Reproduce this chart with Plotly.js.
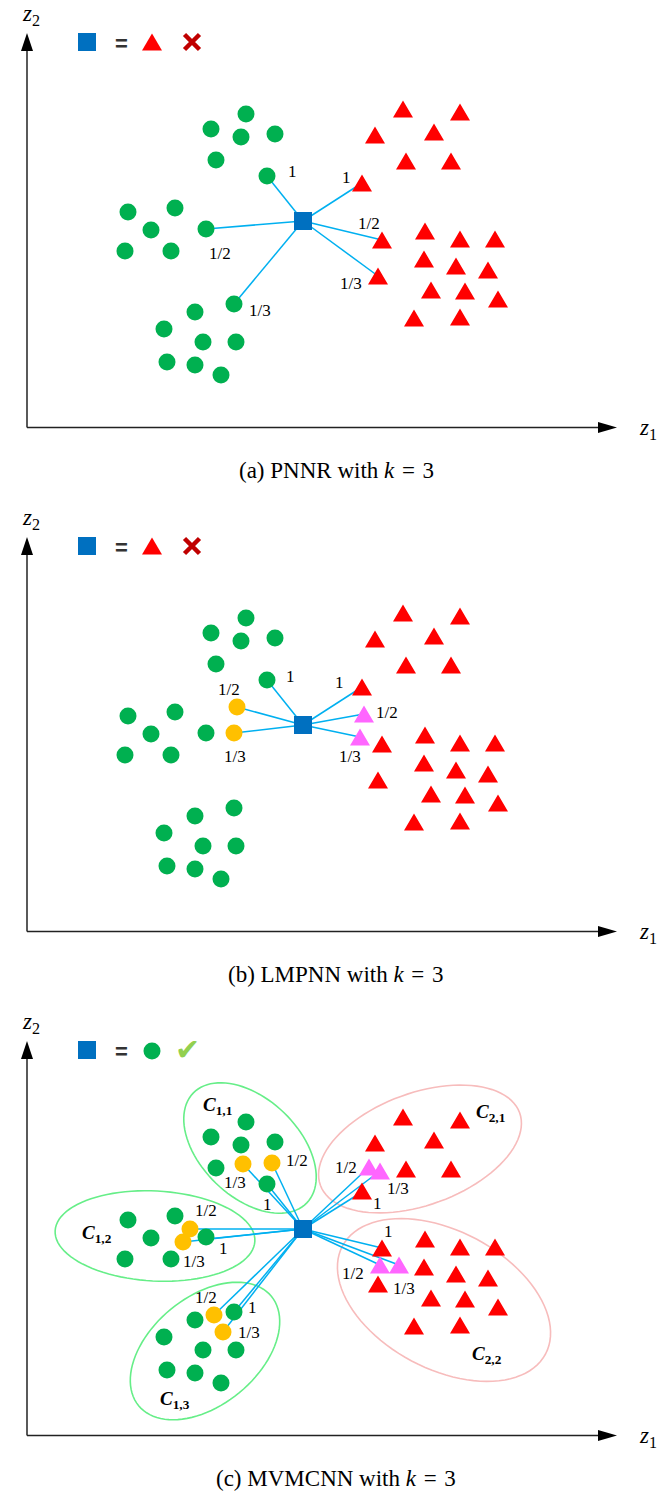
<!DOCTYPE html>
<html>
<head>
<meta charset="utf-8">
<script src="https://cdn.plot.ly/plotly-3.0.1.min.js"></script>
<style>html,body{margin:0;padding:0;background:#fff}#chart{width:672px;height:1495px}</style>
</head>
<body>
<div id="chart"></div>
<script>
// ---------- data (local panel coordinates, same for every panel) ----------
const greenX = [246, 211, 241, 275, 216, 267, 128, 175, 151, 206, 125, 171, 234, 195, 164, 203, 236, 167, 195, 221];
const greenY = [114, 129, 137, 134, 160, 176, 212, 208, 230, 229, 251, 251, 304, 312, 329, 342, 342, 362, 365, 375];
const redX = [403, 460, 375, 434, 406, 451, 362, 382, 425, 460, 495, 424, 456, 488, 378, 431, 465, 498, 414, 460];
const redY = [109, 112, 135, 132, 161, 161, 183, 240, 231, 239, 239, 259, 266, 270, 276, 290, 291, 299, 318, 317];
const queryX = [303];
const queryY = [221];

// panel (a) PNNR
const nnA_X = [267, 206, 234, 362, 382, 378];
const nnA_Y = [176, 229, 304, 183, 240, 276];
const labA_text = ["1", "1/2", "1/3", "1", "1/2", "1/3"];
const labA_X = [292, 220, 260, 346, 369, 351];
const labA_Y = [171, 253, 310, 177, 223, 283];

// panel (b) LMPNN
const yellowB_X = [237, 234];
const yellowB_Y = [203, 229];
const pinkB_X = [364, 360];
const pinkB_Y = [210, 233];
const nnB_X = [267, 237, 234, 362, 364, 360];
const nnB_Y = [176, 203, 229, 183, 210, 233];
const labB_text = ["1", "1/2", "1/3", "1", "1/2", "1/3"];
const labB_X = [290, 229, 235, 339, 387, 350];
const labB_Y = [172, 185, 252, 178, 208, 252];

// panel (c) MVMCNN
const yellowC_X = [243, 272, 190, 183, 214, 223];
const yellowC_Y = [156, 155, 221, 234, 307, 324];
const pinkC_X = [369, 380, 380, 399];
const pinkC_Y = [159, 163, 257, 257];
const nnC_X = [267, 243, 272, 207, 190, 183, 234, 214, 223, 362, 369, 380, 382, 380, 399];
const nnC_Y = [176, 156, 155, 231, 221, 234, 304, 307, 324, 184, 159, 163, 240, 257, 257];
const labC_text = ["1/2", "1/3", "1", "1/2", "1", "1/3", "1/2", "1", "1/3", "1/2", "1/3", "1", "1", "1/2", "1/3"];
const labC_X = [297, 235, 267, 206, 223, 194, 206, 252, 249, 346, 398, 377, 388, 353, 404];
const labC_Y = [152, 174, 196, 202, 240, 253, 289, 299, 324, 159, 180, 195, 223, 265, 280];
const clusterNames = ["1,1", "1,2", "1,3", "2,1", "2,2"];
const clusterLabX = [217, 97, 175, 490, 487];
const clusterLabY = [98, 226, 392, 105, 347];
const ellCX = [250, 155, 205, 420, 444];
const ellCY = [140, 228, 343, 141, 292];
const ellA = [79, 100, 86, 106, 115];
const ellB = [49, 45, 54, 56, 69];
const ellAngle = [44, 3, -39.5, -20, 28];
const ellClass = [1, 1, 1, 2, 2];

const captions = ["(a) PNNR with <i>k</i> &#8202;=&#8202; 3", "(b) LMPNN with <i>k</i> &#8202;=&#8202; 3", "(c) MVMCNN with <i>k</i> &#8202;=&#8202; 3"];

// ---------- styling ----------
const C_GREEN = "#00b050", C_RED = "#ff0000", C_BLUE = "#0070c0", C_YEL = "#ffc000",
      C_PINK = "#ff66ff", C_LINE = "#00b0f0", C_DARKRED = "#c00000", C_CHECK = "#92d050";
const SERIF = "Liberation Serif, Times New Roman, serif";

const traces = [];
const shapes = [];
const annotations = [];

function triPoly(xs, ys) {
  const X = [], Y = [];
  for (let i = 0; i < xs.length; i++) {
    X.push(xs[i] - 10, xs[i] + 10, xs[i], xs[i] - 10, null);
    Y.push(ys[i] + 8.5, ys[i] + 8.5, ys[i] - 8.5, ys[i] + 8.5, null);
  }
  return {x: X, y: Y};
}
function addTriangles(xs, ys, color, ax) {
  const p = triPoly(xs, ys);
  traces.push({x: p.x, y: p.y, mode: "lines", fill: "toself", fillcolor: color,
    line: {width: 0, color: color}, xaxis: ax.x, yaxis: ax.y, hoverinfo: "skip", connectgaps: false});
}
function addCircles(xs, ys, color, ax) {
  traces.push({x: xs, y: ys, mode: "markers", marker: {symbol: "circle", size: 17, color: color},
    xaxis: ax.x, yaxis: ax.y, hoverinfo: "skip"});
}
function addLinks(nx, ny, ax) {
  const X = [], Y = [];
  for (let i = 0; i < nx.length; i++) { X.push(queryX[0], nx[i], null); Y.push(queryY[0], ny[i], null); }
  traces.push({x: X, y: Y, mode: "lines", line: {color: C_LINE, width: 1.5}, xaxis: ax.x, yaxis: ax.y, hoverinfo: "skip"});
}
function addQuery(ax) {
  traces.push({x: queryX, y: queryY, mode: "markers", marker: {symbol: "square", size: 18, color: C_BLUE},
    xaxis: ax.x, yaxis: ax.y, hoverinfo: "skip"});
}
function addLabels(texts, xs, ys, ax) {
  for (let i = 0; i < texts.length; i++) {
    annotations.push({text: texts[i], x: xs[i], y: ys[i], xref: ax.x, yref: ax.y, showarrow: false,
      xanchor: "center", yanchor: "middle", font: {family: SERIF, size: 17, color: "#000"}});
  }
}
function addFrame(ax, caption) {
  shapes.push({type: "line", xref: ax.x, yref: ax.y, x0: 27, y0: 427.5, x1: 27, y1: 48, line: {color: "#000", width: 1.3}});
  shapes.push({type: "line", xref: ax.x, yref: ax.y, x0: 27, y0: 427.5, x1: 600, y1: 427.5, line: {color: "#222", width: 1.3}});
  shapes.push({type: "path", xref: ax.x, yref: ax.y, path: "M27,33 L21,51 L33,51 Z", fillcolor: "#000", line: {width: 0}});
  shapes.push({type: "path", xref: ax.x, yref: ax.y, path: "M617,427.5 L598,422 L598,433 Z", fillcolor: "#000", line: {width: 0}});
  annotations.push({text: "<i>z</i><sub>2</sub>", x: 31, y: 15, xref: ax.x, yref: ax.y, showarrow: false,
    xanchor: "center", yanchor: "middle", font: {family: SERIF, size: 23, color: "#000"}});
  annotations.push({text: "<i>z</i><sub>1</sub>", x: 648, y: 429, xref: ax.x, yref: ax.y, showarrow: false,
    xanchor: "center", yanchor: "middle", font: {family: SERIF, size: 23, color: "#000"}});
  annotations.push({text: caption, x: 336, y: 470, xref: ax.x, yref: ax.y, showarrow: false,
    xanchor: "center", yanchor: "middle", font: {family: SERIF, size: 23, color: "#000"}});
  traces.push({x: [87], y: [42], mode: "markers", marker: {symbol: "square", size: 18, color: C_BLUE},
    xaxis: ax.x, yaxis: ax.y, hoverinfo: "skip"});
  annotations.push({text: "<b>=</b>", x: 121, y: 43, xref: ax.x, yref: ax.y, showarrow: false,
    xanchor: "center", yanchor: "middle", font: {family: "Liberation Sans, Arial, sans-serif", size: 22, color: "#333"}});
}

const AX = [{x: "x", y: "y"}, {x: "x2", y: "y2"}, {x: "x3", y: "y3"}];

// ---- panel a ----
addFrame(AX[0], captions[0]);
addLinks(nnA_X, nnA_Y, AX[0]);
addCircles(greenX, greenY, C_GREEN, AX[0]);
addTriangles(redX, redY, C_RED, AX[0]);
addQuery(AX[0]);
addLabels(labA_text, labA_X, labA_Y, AX[0]);
addTriangles([152], [42], C_RED, AX[0]);
traces.push({x: [192], y: [42], mode: "markers", marker: {symbol: "x-thin", size: 15, line: {width: 4.5, color: C_DARKRED}},
  xaxis: "x", yaxis: "y", hoverinfo: "skip"});

// ---- panel b ----
addFrame(AX[1], captions[1]);
addLinks(nnB_X, nnB_Y, AX[1]);
addCircles(greenX, greenY, C_GREEN, AX[1]);
addCircles(yellowB_X, yellowB_Y, C_YEL, AX[1]);
addTriangles(redX, redY, C_RED, AX[1]);
addTriangles(pinkB_X, pinkB_Y, C_PINK, AX[1]);
addQuery(AX[1]);
addLabels(labB_text, labB_X, labB_Y, AX[1]);
addTriangles([152], [42], C_RED, AX[1]);
traces.push({x: [192], y: [42], mode: "markers", marker: {symbol: "x-thin", size: 15, line: {width: 4.5, color: C_DARKRED}},
  xaxis: "x2", yaxis: "y2", hoverinfo: "skip"});

// ---- panel c ----
addFrame(AX[2], captions[2]);
for (let k = 0; k < ellCX.length; k++) {
  const th = ellAngle[k] * Math.PI / 180;
  let d = "";
  for (let i = 0; i <= 96; i++) {
    const t = 2 * Math.PI * i / 96;
    const px = ellCX[k] + ellA[k] * Math.cos(th) * Math.cos(t) - ellB[k] * Math.sin(th) * Math.sin(t);
    const py = ellCY[k] + ellA[k] * Math.sin(th) * Math.cos(t) + ellB[k] * Math.cos(th) * Math.sin(t);
    d += (i === 0 ? "M" : "L") + px.toFixed(2) + "," + py.toFixed(2);
  }
  d += "Z";
  shapes.push({type: "path", xref: "x3", yref: "y3", path: d, layer: "below",
    line: {color: ellClass[k] === 1 ? "#66ee88" : "#f7bcbc", width: 1.6}});
}
addLinks(nnC_X, nnC_Y, AX[2]);
addCircles(greenX, greenY, C_GREEN, AX[2]);
addCircles(yellowC_X, yellowC_Y, C_YEL, AX[2]);
addTriangles(redX, redY, C_RED, AX[2]);
addTriangles(pinkC_X, pinkC_Y, C_PINK, AX[2]);
addQuery(AX[2]);
addLabels(labC_text, labC_X, labC_Y, AX[2]);
for (let k = 0; k < clusterNames.length; k++) {
  annotations.push({text: "<b><i>C</i></b><sub><b>" + clusterNames[k] + "</b></sub>", x: clusterLabX[k], y: clusterLabY[k],
    xref: "x3", yref: "y3", showarrow: false, xanchor: "center", yanchor: "middle",
    font: {family: SERIF, size: 19, color: "#000"}});
}
addCircles([152], [43], C_GREEN, AX[2]);
annotations.push({text: "✔", x: 187, y: 41, xref: "x3", yref: "y3", showarrow: false, xanchor: "center", yanchor: "middle",
  font: {family: "DejaVu Sans", size: 30, color: C_CHECK}});

// ---------- layout ----------
const H = 1495;
function xa() { return {range: [0, 672], domain: [0, 1], visible: false, fixedrange: true}; }
function ya(top, bottom, anchor) {
  return {range: [bottom - top, 0], domain: [1 - bottom / H, 1 - top / H], visible: false, anchor: anchor, fixedrange: true};
}
const layout = {
  width: 672, height: 1495,
  margin: {l: 0, r: 0, t: 0, b: 0},
  paper_bgcolor: "#fff", plot_bgcolor: "rgba(0,0,0,0)",
  showlegend: false, hovermode: false,
  xaxis: Object.assign(xa(), {anchor: "y"}),
  xaxis2: Object.assign(xa(), {anchor: "y2"}),
  xaxis3: Object.assign(xa(), {anchor: "y3"}),
  yaxis: ya(0, 504, "x"),
  yaxis2: ya(504, 1008, "x2"),
  yaxis3: ya(1008, 1495, "x3"),
  shapes: shapes,
  annotations: annotations
};
Plotly.newPlot("chart", traces, layout, {staticPlot: true, displayModeBar: false});
</script>
</body>
</html>
